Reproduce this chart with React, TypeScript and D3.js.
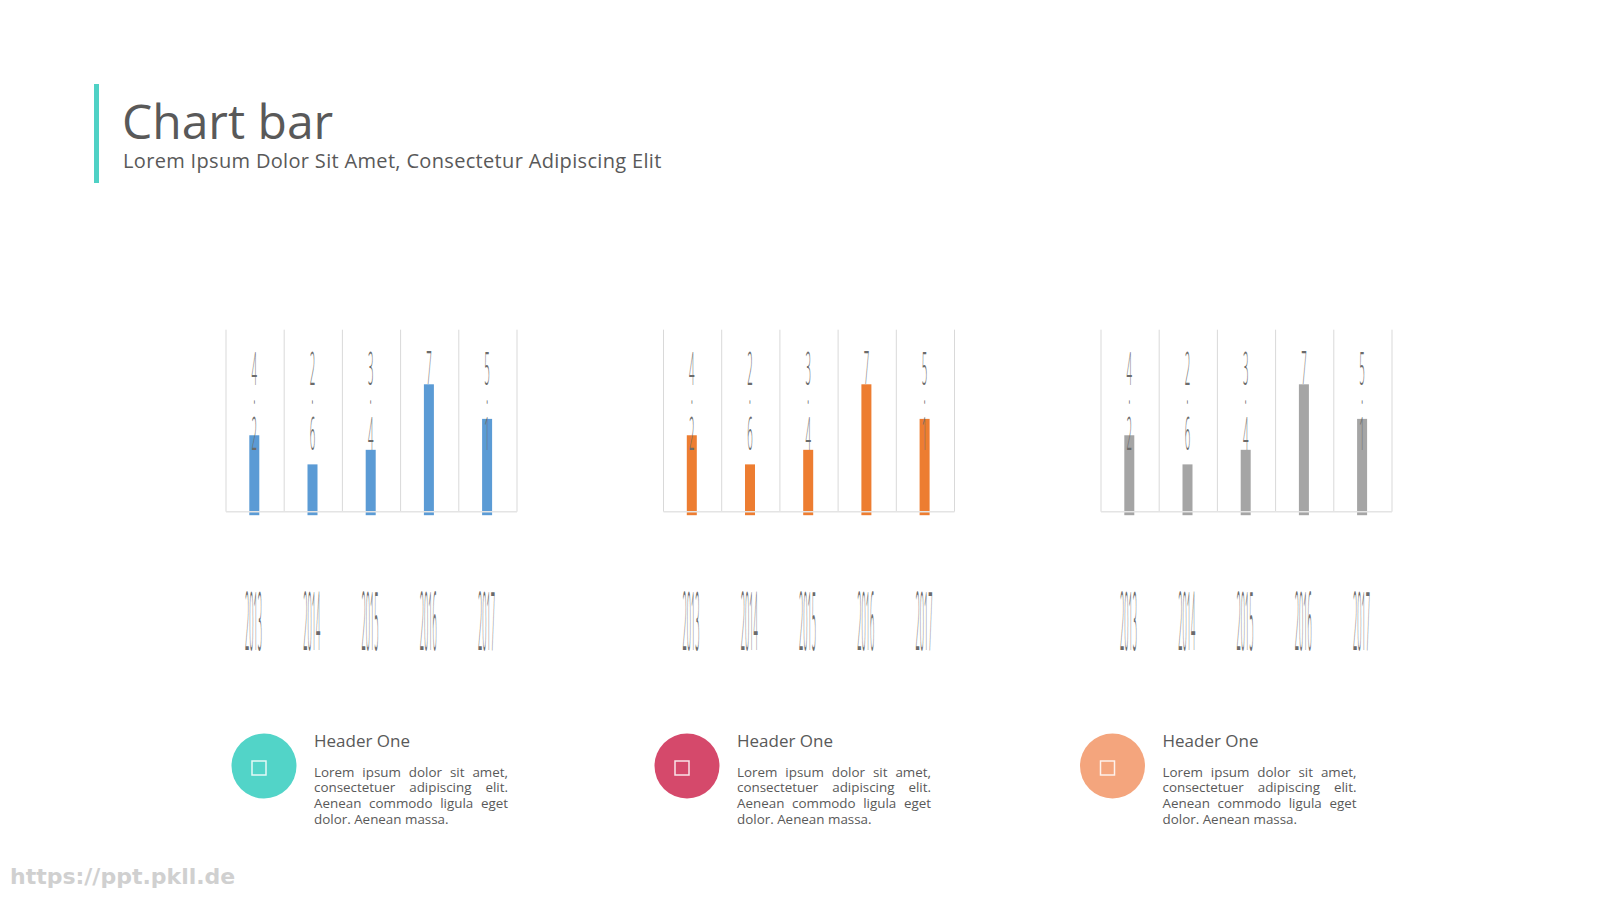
import { useMemo } from "react";
import * as d3 from "d3";

const YEARS = ["2013", "2014", "2015", "2016", "2017"];
const SERIES_BLUE = [4.2, 2.6, 3.4, 7, 5.1];
const SERIES_ORANGE = [4.2, 2.6, 3.4, 7, 5.1];
const SERIES_GRAY = [4.2, 2.6, 3.4, 7, 5.1];
const SERIES = [SERIES_BLUE, SERIES_ORANGE, SERIES_GRAY];
const SERIES_COLORS = ["#5b9bd5", "#ed7d31", "#a5a5a5"];
const Y_MAX = 10;

const CARD_TITLES = ["Header One", "Header One", "Header One"];
const CARD_COLORS = ["#52d4c8", "#d5496b", "#f4a57d"];
const BODY_LINES = [
  "Lorem ipsum dolor sit amet,",
  "consectetuer adipiscing elit.",
  "Aenean commodo ligula eget",
  "dolor. Aenean massa.",
];

const W = 1600;
const H = 900;
const FONT = "'Segoe UI', 'Open Sans', 'Noto Sans', sans-serif";
const TEXT = "#595959";

// chart panels
const PANEL_X = [226, 663.5, 1101];
const PANEL_W = 291;
const PLOT_TOP = 329.7;
const PLOT_BOTTOM = 511.7;
const BAR_W = 10;

// cards
const CARD_CX = [264, 687, 1112.5];
const CARD_CY = 766;
const CARD_R = 32.5;
const BODY_W = 194;
const BODY_SIZE = 13.4;

const fmt = (v: number) => (Number.isInteger(v) ? String(v) : v.toFixed(1));

function useMeasure() {
  return useMemo(() => {
    const ctx = document.createElement("canvas").getContext("2d")!;
    ctx.font = `${BODY_SIZE}px 'Open Sans'`;
    return (s: string) => ctx.measureText(s).width;
  }, []);
}

function Panel({ idx }: { idx: number }) {
  const values = SERIES[idx];
  const x = d3.scaleBand<string>().domain(YEARS).range([0, PANEL_W]).padding(0);
  const y = d3.scaleLinear().domain([0, Y_MAX]).range([PLOT_BOTTOM, PLOT_TOP]);
  const edges = [...YEARS.map((d) => x(d)!), PANEL_W];
  const center = (d: string) => x(d)! + x.bandwidth() / 2 - 0.8;
  return (
    <g transform={`translate(${PANEL_X[idx]},0)`}>
      {edges.map((e, i) => (
        <line key={i} x1={e} x2={e} y1={PLOT_TOP} y2={PLOT_BOTTOM} stroke="#d9d9d9" strokeWidth={1} />
      ))}
      {values.map((v, i) => {
        const cx = center(YEARS[i]);
        return (
          <rect key={i} x={cx - BAR_W / 2} y={y(v)} width={BAR_W} height={PLOT_BOTTOM - y(v) + 3.5} fill={SERIES_COLORS[idx]} />
        );
      })}
      <line x1={0} x2={PANEL_W} y1={PLOT_BOTTOM} y2={PLOT_BOTTOM} stroke="#e4e4e4" strokeWidth={1.5} />
      {values.map((v, i) => {
        const cx = center(YEARS[i]);
        const s = fmt(v);
        // labels are squeezed and wrapped one glyph per line, as in the source slide
        const parts = s.includes(".")
          ? [
              { t: s.split(".")[0], b: PLOT_TOP + 55.5 },
              { t: ".", b: PLOT_TOP + 74 },
              { t: s.split(".")[1], b: PLOT_TOP + 120.5 },
            ]
          : [{ t: s, b: PLOT_TOP + 54.5 }];
        return (
          <g key={i}>
            {parts.map((p, j) => (
              <text
                key={j}
                transform={`translate(${cx},${p.b}) scale(0.8,3.8)`}
                textAnchor="middle"
                fontSize={12}
                fontFamily={FONT}
                fontWeight={300}
                fill="#6b6b6b"
              >
                {p.t}
              </text>
            ))}
          </g>
        );
      })}
      {YEARS.map((d) => (
        <text
          key={d}
          transform={`translate(${center(d) - 0.7},650) scale(0.62,6.75)`}
          textAnchor="middle"
          fontSize={12}
          fontFamily={FONT}
          fontWeight={300}
          fill="#6b6b6b"
        >
          {d}
        </text>
      ))}
    </g>
  );
}

function Card({ idx, measure }: { idx: number; measure: (s: string) => number }) {
  const cx = CARD_CX[idx];
  const tx = cx + 50;
  return (
    <g>
      <circle cx={cx} cy={CARD_CY} r={CARD_R} fill={CARD_COLORS[idx]} />
      <rect x={cx - 12} y={CARD_CY - 5} width={14} height={14} fill="none" stroke="#ffffff" strokeOpacity={0.85} strokeWidth={1.5} />
      <text x={tx} y={746.7} fontSize={17} fontFamily={FONT} fill={TEXT}>
        {CARD_TITLES[idx]}
      </text>
      {BODY_LINES.map((line, i) => {
        const last = i === BODY_LINES.length - 1;
        const gaps = line.split(" ").length - 1;
        const ws = last || gaps === 0 ? 0 : Math.max(0, (BODY_W - measure(line)) / gaps);
        return (
          <text
            key={i}
            x={tx}
            y={776.7 + i * 15.7}
            fontSize={BODY_SIZE}
            fontFamily="'Open Sans', sans-serif"
            fill={TEXT}
            style={{ wordSpacing: `${ws}px` }}
          >
            {line}
          </text>
        );
      })}
    </g>
  );
}

export default function App() {
  const measure = useMeasure();
  return (
    <div style={{ position: "absolute", left: 0, top: 0 }}>
      <svg width={W} height={H} viewBox={`0 0 ${W} ${H}`} style={{ display: "block", background: "#ffffff" }}>
        <rect x={94} y={84} width={5} height={99} fill="#4fd1c5" />
        <text x={122} y={139} fontSize={48} fontFamily={FONT} fill={TEXT}>
          Chart bar
        </text>
        <text x={123} y={168.4} fontSize={20} letterSpacing={0.33} fontFamily={FONT} fill={TEXT}>
          Lorem Ipsum Dolor Sit Amet, Consectetur Adipiscing Elit
        </text>
        {SERIES.map((_, i) => (
          <Panel key={i} idx={i} />
        ))}
        {CARD_TITLES.map((_, i) => (
          <Card key={i} idx={i} measure={measure} />
        ))}
        <text x={10} y={884} fontSize={22} fontWeight="bold" fontFamily="'DejaVu Sans', sans-serif" fill="#d0d0d0">
          https://ppt.pkll.de
        </text>
      </svg>
    </div>
  );
}
